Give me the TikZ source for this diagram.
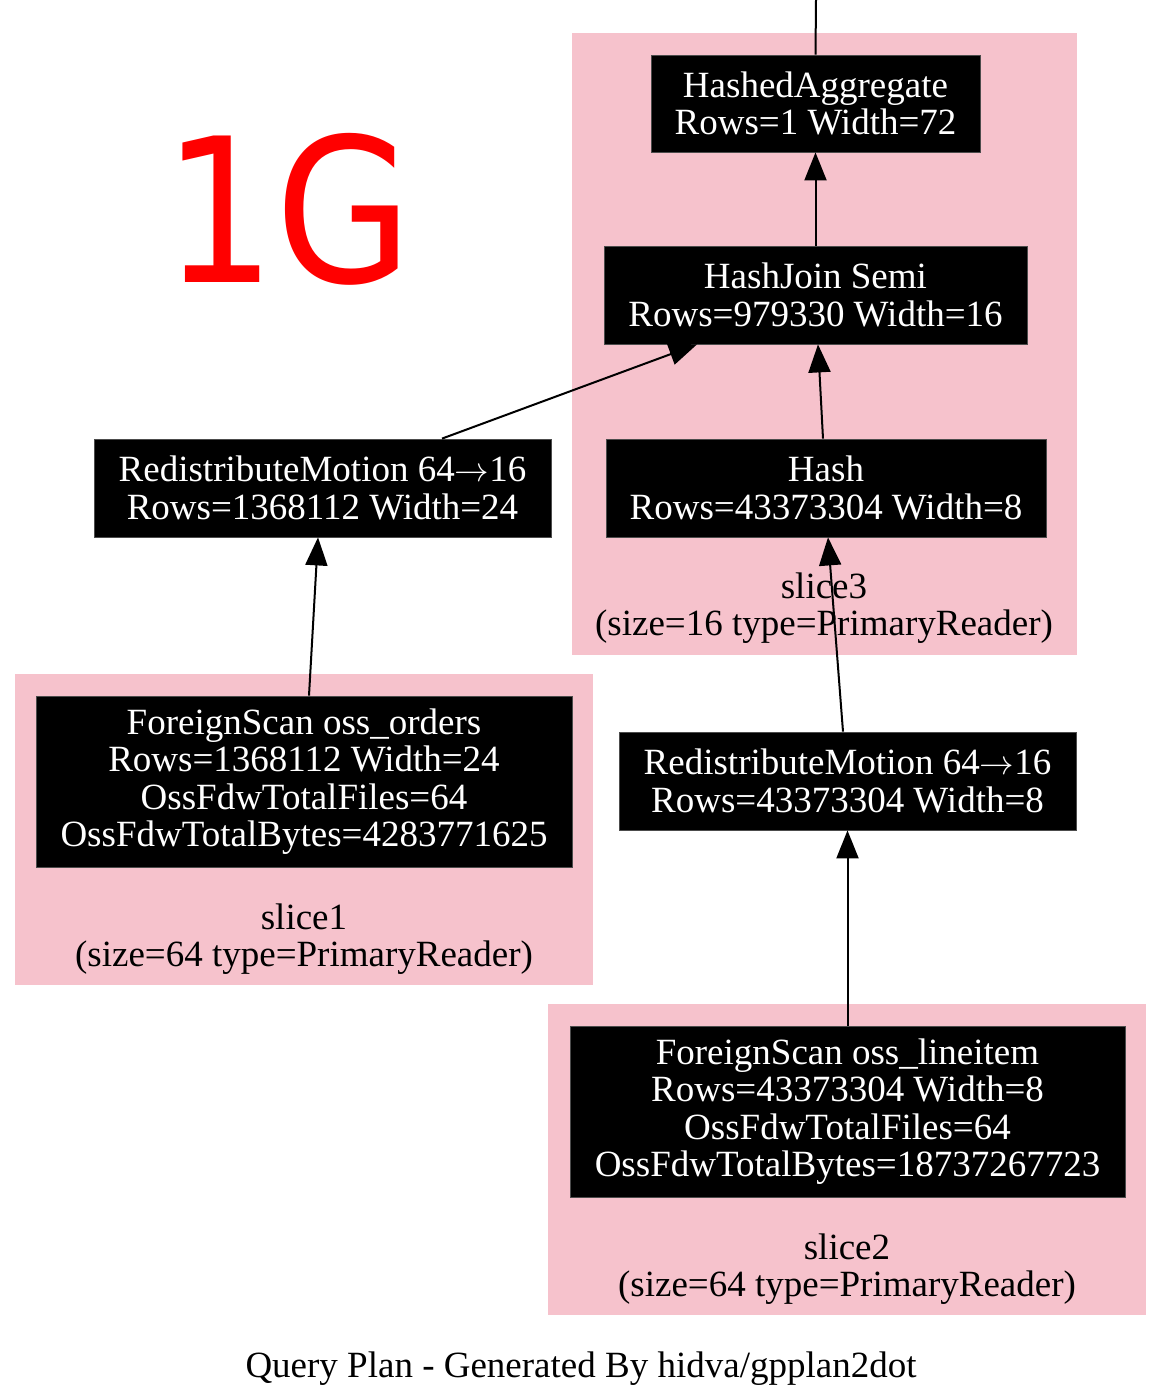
\documentclass[tikz,border=0pt]{standalone}
\usepackage{fontspec}
\usepackage{graphicx}
\setmainfont{Liberation Serif}
\newfontfamily\bigsans{DejaVu Sans}
\usetikzlibrary{arrows.meta}
\definecolor{slicepink}{HTML}{F6C2CC}
\newcommand{\planto}{$\rightarrow$}

\tikzset{
  plannode/.style={fill=black, draw=black!70, text=white, inner sep=0pt, align=center},
  slicebox/.style={fill=slicepink},
  slicelabel/.style={align=center, inner sep=0pt},
  planedge/.style={line width=1pt, -{Triangle[length=14pt,width=11pt]}},
}

\begin{document}
\begin{tikzpicture}[x=0.5pt, y=-0.5pt, font=\fontsize{18.5}{18.7}\selectfont]
  \useasboundingbox[fill=white] (0,0) rectangle (1170,1398);

  % slices
  \fill[slicebox] (572,33) rectangle (1077,655);
  \fill[slicebox] (15,674) rectangle (593,985);
  \fill[slicebox] (548,1004) rectangle (1146,1315);

  \node[slicelabel] (s3) at (824,608) {slice3\\(size=16 type=PrimaryReader)};
  \node[slicelabel] (s1) at (304,939) {slice1\\(size=64 type=PrimaryReader)};
  \node[slicelabel] (s2) at (847,1269) {slice2\\(size=64 type=PrimaryReader)};

  % plan nodes
  \node[plannode, minimum width=164.5pt, minimum height=48.5pt] (agg) at (815.5,103.5) {HashedAggregate\\Rows=1 Width=72};
  \node[plannode, minimum width=211.5pt, minimum height=49pt] (join) at (815.5,295) {HashJoin Semi\\Rows=979330 Width=16};
  \node[plannode, minimum width=228.5pt, minimum height=49pt] (rml) at (322.5,488) {RedistributeMotion 64\planto16\\Rows=1368112 Width=24};
  \node[plannode, minimum width=220pt, minimum height=49pt] (hash) at (826,488) {Hash\\Rows=43373304 Width=8};
  \node[plannode, minimum width=268pt, minimum height=85.5pt] (orders) at (304,781.5) {ForeignScan oss\_orders\\Rows=1368112 Width=24\\OssFdwTotalFiles=64\\OssFdwTotalBytes=4283771625};
  \node[plannode, minimum width=228.5pt, minimum height=49pt] (rmr) at (847.5,781) {RedistributeMotion 64\planto16\\Rows=43373304 Width=8};
  \node[plannode, minimum width=277.5pt, minimum height=85.5pt] (lineitem) at (847.5,1111.5) {ForeignScan oss\_lineitem\\Rows=43373304 Width=8\\OssFdwTotalFiles=64\\OssFdwTotalBytes=18737267723};

  \node[text=red, font=\bigsans\fontsize{100.5}{100.5}\selectfont, inner sep=0pt] (size) at (288,209.5) {\scalebox{0.88}[1]{1G}};
  \node[inner sep=0pt] (caption) at (581,1369) {Query Plan - Generated By hidva/gpplan2dot};

  % edges
  \coordinate (out) at (816,0);
  \draw[line width=1pt] (agg.north) -- (out);
  \draw[planedge] (join.north) -- (agg.south);
  \draw[planedge] ([xshift=59.75pt]rml.north) -- ([xshift=-59.25pt]join.south);
  \draw[planedge] ([xshift=-1.5pt]hash.north) -- ([xshift=1.25pt]join.south);
  \draw[planedge] ([xshift=2.5pt]orders.north) -- ([xshift=-2.25pt]rml.south);
  \draw[planedge] ([xshift=-2.25pt]rmr.north) -- ([xshift=1pt]hash.south);
  \draw[planedge] (lineitem.north) -- (rmr.south);
\end{tikzpicture}
\end{document}
